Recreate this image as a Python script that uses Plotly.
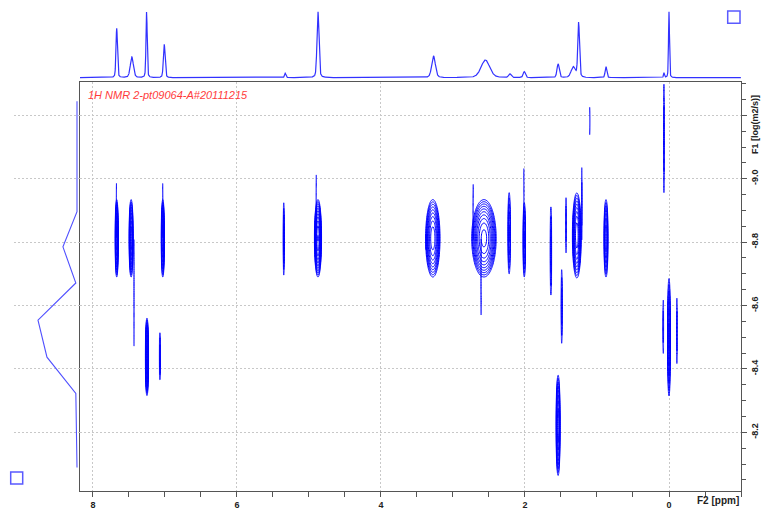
import numpy as np
import plotly.graph_objects as go

# ---------------- data ----------------
# 1D 1H spectrum (top trace): peak list
spec_ppm    = [7.67, 7.46, 7.255, 7.01, 5.33, 4.875, 3.27, 2.55, 2.21, 2.01, 1.54, 1.33, 1.255, 0.875, 0.07, 0.0]
spec_height = [0.74, 0.31, 0.99, 0.50, 0.066, 0.99, 0.325, 0.265, 0.055, 0.09, 0.205, 0.16, 0.825, 0.165, 0.07, 0.99]
spec_hwhm   = [0.012, 0.025, 0.010, 0.014, 0.012, 0.016, 0.030, 0.070, 0.020, 0.018, 0.018, 0.035, 0.014, 0.014, 0.008, 0.008]

# F1 projection (left trace)
proj_logd = [-9.244, -8.896, -8.785, -8.671, -8.554, -8.437, -8.323, -8.089]
proj_int  = [0.0, 0.0, 0.36, 0.03, 1.0, 0.77, 0.03, 0.0]

# DOSY cross peaks: F2 shift, F1 log(D), half extent (ppm), half extent (log units), relative intensity
dosy_ppm   = [7.67, 7.675, 7.47, 7.43, 7.03, 7.03, 5.35, 4.875, 4.90, 7.25, 7.07, 3.28, 3.37,
              2.57, 2.72, 2.61, 2.22, 2.01, 2.015, 1.64, 1.49, 1.43, 1.28, 1.21, 0.875,
              0.07, 0.0, 0.08, -0.11, 1.54, 1.10]
dosy_logd  = [-8.812, -8.90, -8.812, -8.64, -8.812, -8.90, -8.81, -8.812, -8.927, -8.438, -8.44, -8.812, -8.80,
              -8.812, -8.895, -8.69, -8.828, -8.807, -8.951, -8.772, -8.597, -8.853, -8.821, -8.921, -8.812,
              -9.127, -8.50, -8.533, -8.52, -8.222, -9.182]
dosy_ppm_w = [0.024, 0.007, 0.030, 0.007, 0.024, 0.007, 0.012, 0.050, 0.007, 0.024, 0.012, 0.100, 0.015,
              0.170, 0.008, 0.008, 0.020, 0.020, 0.007, 0.014, 0.012, 0.010, 0.062, 0.008, 0.030,
              0.010, 0.022, 0.010, 0.010, 0.030, 0.008]
dosy_logd_w = [0.122, 0.085, 0.122, 0.168, 0.122, 0.085, 0.114, 0.122, 0.085, 0.122, 0.074, 0.122, 0.025,
               0.122, 0.087, 0.120, 0.128, 0.117, 0.081, 0.139, 0.116, 0.087, 0.134, 0.114, 0.122,
               0.171, 0.185, 0.084, 0.103, 0.158, 0.043]
dosy_int   = [10, 1.3, 10, 1.3, 8, 1.3, 2.5, 14, 1.3, 10, 2, 10, 1.3,
              12, 1.3, 1.3, 3, 4, 1.3, 2, 2, 1.5, 10, 1.5, 6,
              1.5, 4, 1.5, 1.5, 8, 1.3]

x_ticks = [8, 6, 4, 2, 0]
y_ticks = [-9.2, -9.0, -8.8, -8.6, -8.4, -8.2]
y_ticktext = ["", "-9.0", "-8.8", "-8.6", "-8.4", "-8.2"]

# ---------------- styles ----------------
W, H = 764, 512
BLUE = "#0000ff"
LEVEL_STEP = 1.3
GRID = dict(showgrid=True, gridcolor="#c8c8c8", griddash="2px,2px", gridwidth=1)

fig = go.Figure()

# 1D spectrum
ppm_axis = np.arange(8.18, -1.0, -0.002)
spec = np.zeros_like(ppm_axis)
for c, h, w in zip(spec_ppm, spec_height, spec_hwhm):
    lor = 1.0 / (1.0 + ((ppm_axis - c) / w) ** 2)
    gau = np.exp(-np.log(2) * ((ppm_axis - c) / w) ** 2)
    spec += h * (0.3 * lor + 0.7 * gau)
fig.add_trace(go.Scatter(x=ppm_axis, y=spec, xaxis="x2", yaxis="y2", mode="lines",
                         line=dict(color="rgb(50,50,255)", width=1.2), hoverinfo="skip"))

# projection
fig.add_trace(go.Scatter(x=proj_int, y=proj_logd, xaxis="x3", yaxis="y", mode="lines",
                         line=dict(color="rgb(80,80,255)", width=1.1), hoverinfo="skip"))

# contour cross peaks
for x0, y0, wx, wy, h in zip(dosy_ppm, dosy_logd, dosy_ppm_w, dosy_logd_w, dosy_int):
    r_out = np.sqrt(2 * np.log(h))
    sx, sy = wx / r_out, wy / r_out
    gx = np.linspace(x0 - 1.25 * wx, x0 + 1.25 * wx, 41)
    gy = np.linspace(y0 - 1.25 * wy, y0 + 1.25 * wy, 61)
    X, Y = np.meshgrid(gx, gy)
    Z = np.log(h) - 0.5 * (((X - x0) / sx) ** 2 + ((Y - y0) / sy) ** 2)
    fig.add_trace(go.Contour(
        x=gx, y=gy, z=Z, autocontour=False,
        contours=dict(start=0, end=np.log(h) - 1e-6, size=np.log(LEVEL_STEP), coloring="lines"),
        colorscale=[[0, BLUE], [1, BLUE]], line=dict(width=1), showscale=False, hoverinfo="skip"))

px = lambda v: v / W
py = lambda v: 1 - v / H

tickfont = dict(family="Liberation Sans, Arial, sans-serif", size=9, color="#222", weight="bold")

fig.update_layout(
    width=W, height=H, margin=dict(l=0, r=0, t=0, b=0),
    paper_bgcolor="white", plot_bgcolor="white", showlegend=False,
    font=dict(family="Liberation Sans, Arial, sans-serif"),
    xaxis=dict(domain=[px(80), px(741)], range=[8.18, -1.0], tickmode="array", tickvals=x_ticks,
               ticktext=[str(v) for v in x_ticks], ticks="outside", ticklen=5, tickcolor="#555",
               tickfont=tickfont, **GRID,
               minor=dict(tickmode="linear", tick0=0, dtick=0.5, ticks="outside", ticklen=5,
                          tickcolor="#555", showgrid=False),
               showline=True, linecolor="#555", linewidth=1, mirror=True, zeroline=False, anchor="y"),
    yaxis=dict(domain=[py(491), py(82)], range=[-8.015, -9.305], side="right", tickmode="array",
               tickvals=y_ticks, ticktext=y_ticktext, tickangle=-90, ticks="outside", ticklen=5,
               tickcolor="#555", tickfont=tickfont, **GRID,
               minor=dict(tickmode="linear", tick0=-9.0, dtick=0.05, ticks="outside", ticklen=4,
                          tickcolor="#555", showgrid=False),
               showline=True, linecolor="#555", linewidth=1, mirror=True, zeroline=False, anchor="x"),
    xaxis2=dict(domain=[px(80), px(741)], matches="x", visible=False, anchor="y2"),
    yaxis2=dict(domain=[py(79), py(9)], range=[-0.0195, 1.03], visible=False, anchor="x2"),
    xaxis3=dict(domain=[px(14), px(80)], range=[1.615, -0.077], visible=False, anchor="y"),
)

fig.add_annotation(text="1H NMR 2-pt09064-A#20111215", xref="paper", yref="paper",
                   x=px(86), y=py(95), xanchor="left", yanchor="middle", showarrow=False,
                   font=dict(size=11, color="#ff3c3c", style="italic"))
fig.add_annotation(text="F2 [ppm]", xref="paper", yref="paper", x=px(718), y=py(500),
                   xanchor="center", yanchor="middle", showarrow=False,
                   font=dict(size=10, color="#222", weight="bold"))
fig.add_annotation(text="F1 [log(m2/s)]", xref="paper", yref="paper", x=px(755), y=py(125),
                   xanchor="center", yanchor="middle", textangle=-90, showarrow=False,
                   font=dict(size=9, color="#222", weight="bold"))

for (x0, y0, x1, y1) in [(10.7, 472, 22.7, 484), (727.7, 11, 740, 23.3)]:
    fig.add_shape(type="rect", xref="paper", yref="paper", x0=px(x0), x1=px(x1), y0=py(y1), y1=py(y0),
                  line=dict(color="#5a5aff", width=1.5))

fig.write_html("out.html", config={"displayModeBar": False},
               post_script="document.body.style.margin='0';")
